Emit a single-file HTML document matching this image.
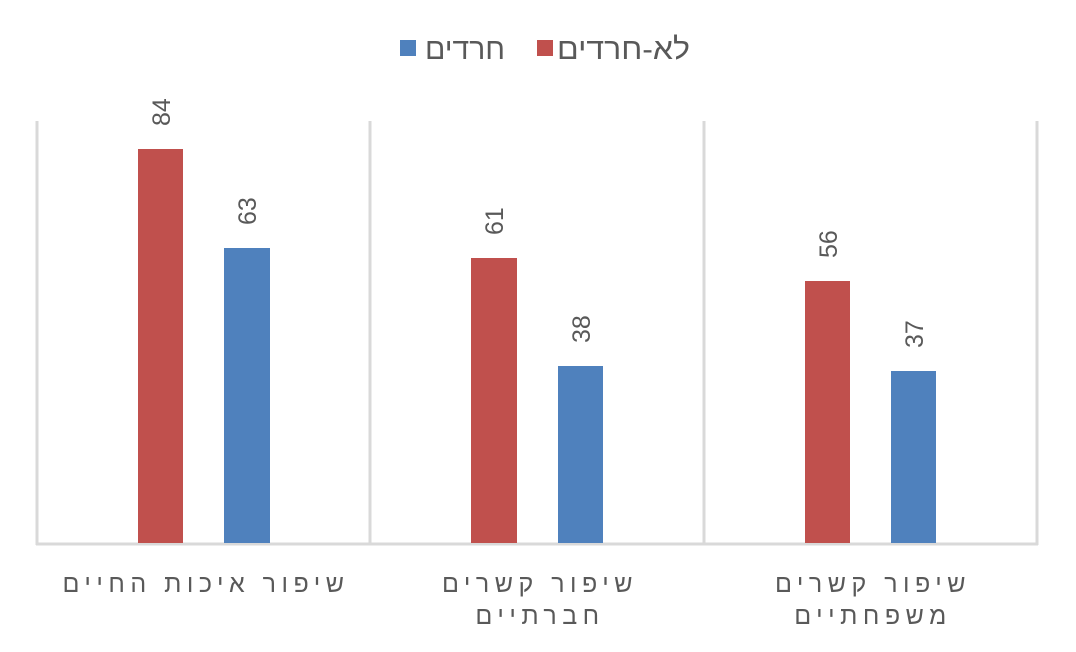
<!DOCTYPE html>
<html><head><meta charset="utf-8"><style>
html,body{margin:0;padding:0;background:#fff;}
svg{display:block;font-family:"Liberation Sans","DejaVu Sans",sans-serif;}
</style></head><body>
<svg width="1076" height="652" xmlns="http://www.w3.org/2000/svg">
<rect width="1076" height="652" fill="#fff"/>
<!-- legend -->
<rect x="537" y="40" width="16" height="16" fill="#c0504d"/>
<text x="690" y="59" font-size="30" fill="#595959" text-anchor="end" textLength="133" lengthAdjust="spacingAndGlyphs">לא-חרדים</text>
<rect x="400" y="40" width="16" height="16" fill="#4f81bd"/>
<text x="505" y="59" font-size="30" fill="#595959" text-anchor="end" textLength="80" lengthAdjust="spacingAndGlyphs">חרדים</text>
<!-- grid -->
<g stroke="#d9d9d9" stroke-width="3">
<line x1="37" y1="121" x2="37" y2="545"/>
<line x1="370" y1="121" x2="370" y2="545"/>
<line x1="704" y1="121" x2="704" y2="545"/>
<line x1="1037" y1="121" x2="1037" y2="545"/>
<line x1="36" y1="544" x2="1038" y2="544"/>
</g>
<!-- bars -->
<rect x="138" y="149" width="45" height="394" fill="#c0504d"/>
<rect x="224" y="248" width="46" height="295" fill="#4f81bd"/>
<rect x="471" y="258" width="46" height="285" fill="#c0504d"/>
<rect x="558" y="366" width="45" height="177" fill="#4f81bd"/>
<rect x="805" y="281" width="45" height="262" fill="#c0504d"/>
<rect x="891" y="371" width="45" height="172" fill="#4f81bd"/>
<!-- value labels -->
<g font-size="25" fill="#595959">
<text transform="translate(170,126) rotate(-90)">84</text>
<text transform="translate(256,225) rotate(-90)">63</text>
<text transform="translate(503,235) rotate(-90)">61</text>
<text transform="translate(590,343) rotate(-90)">38</text>
<text transform="translate(837,258) rotate(-90)">56</text>
<text transform="translate(923,348) rotate(-90)">37</text>
</g>
<!-- categories -->
<g font-size="25" fill="#595959" text-anchor="middle" letter-spacing="5.5">
<text x="206" y="592">שיפור איכות החיים</text>
<text x="540" y="592">שיפור קשרים</text>
<text x="540" y="624">חברתיים</text>
<text x="873" y="592">שיפור קשרים</text>
<text x="873" y="624">משפחתיים</text>
</g>
</svg>
</body></html>
